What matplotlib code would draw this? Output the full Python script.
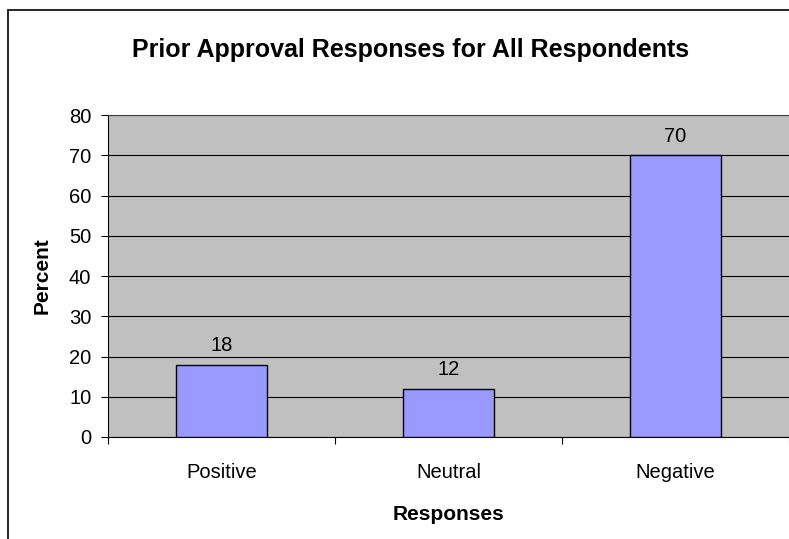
import matplotlib
matplotlib.use('Agg')
import matplotlib.pyplot as plt
from matplotlib.patches import Rectangle

# ── data ──────────────────────────────────────────────
categories = ["Positive", "Neutral", "Negative"]
percent = [18, 12, 70]
y_ticks = [0, 10, 20, 30, 40, 50, 60, 70, 80]

plt.rcParams['font.family'] = ['Liberation Sans', 'DejaVu Sans']

W, H = 789, 539
fig = plt.figure(figsize=(W / 100, H / 100), dpi=100)
fig.patch.set_facecolor('white')

# chart frame (runs off the right and bottom edges)
fig.patches.append(Rectangle((8 / W, -0.1), 1.2, 1 - 10 / H + 0.1,
                             transform=fig.transFigure, fill=False,
                             edgecolor='black', linewidth=1.2, zorder=0))

left, right, top, bottom = 108, 789, 115, 437
ax = fig.add_axes([left / W, 1 - bottom / H, (right - left) / W, (bottom - top) / H])
ax.set_facecolor('#C0C0C0')

x = list(range(len(categories)))
bars = ax.bar(x, percent, width=0.4, color='#9999FF', edgecolor='black',
              linewidth=1.0, zorder=3)

for xi, v in zip(x, percent):
    ax.annotate(str(v), (xi, v), xytext=(0, 7), textcoords='offset points',
                ha='center', va='bottom', fontsize=14.5)

ax.set_xlim(-0.5, 2.5)
ax.set_ylim(0, 80)
ax.set_yticks(y_ticks)
ax.yaxis.grid(True, color='black', linewidth=0.8, zorder=1)
ax.set_axisbelow(True)

# category ticks sit between the groups, labels at the centres
ax.set_xticks([-0.5, 0.5, 1.5, 2.5])
ax.set_xticklabels([])
ax.set_xticks(x, minor=True)
ax.set_xticklabels(categories, minor=True, fontsize=14.5)
ax.tick_params(axis='x', which='minor', length=0, pad=19)
ax.tick_params(axis='x', which='major', direction='out', length=5, width=0.8)
ax.tick_params(axis='y', direction='out', length=5, width=0.8, labelsize=14.5, pad=7)

ax.spines['right'].set_visible(False)
ax.spines['top'].set_color('#404040')
ax.spines['left'].set_color('black')
ax.spines['bottom'].set_color('black')

ax.set_ylabel("Percent", fontsize=15, fontweight='bold')
ax.yaxis.set_label_coords((42 - left) / (right - left), 0.5)
ax.set_xlabel("Responses", fontsize=15, fontweight='bold')
ax.xaxis.set_label_coords(0.5, (bottom - 515) / (bottom - top))
ax.yaxis.label.set_va('center')
ax.xaxis.label.set_va('center')

fig.text(411 / W, 1 - 50 / H, "Prior Approval Responses for All Respondents",
         ha='center', va='center', fontsize=18, fontweight='bold')

fig.savefig('out.png', dpi=100)
